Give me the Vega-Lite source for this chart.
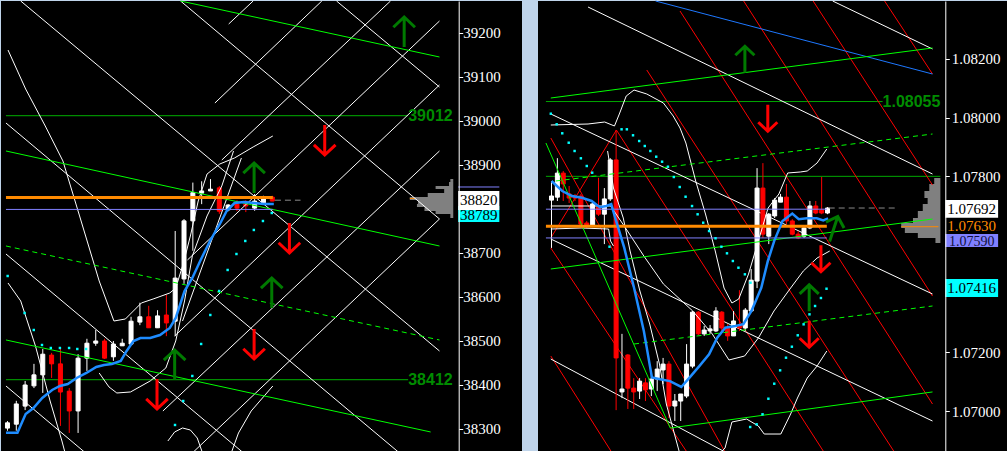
{
"$schema":"https://vega.github.io/schema/vega-lite/v6.json",
"background":"#bfd4ea",
"padding":0,
"spacing":16,
"bounds":"flush",
"config":{"view":{"stroke":null},"axis":{"grid":false}},
"hconcat":[
{
"width":521,"height":451,
"view":{"fill":"#000000","stroke":null},
"encoding":{
 "x":{"field":"x","type":"quantitative","scale":{"domain":[-0.1667,57.7222],"nice":false,"zero":false},"axis":null},
 "y":{"field":"y","type":"quantitative","scale":{"domain":[38247.7,39272.7],"nice":false,"zero":false},
  "axis":{"orient":"right","offset":-63.3,"zindex":1,"values":[38300,38400,38500,38600,38700,38900,39000,39100,39200],"format":"d","domainColor":"#ffffff","tickColor":"#ffffff","labelColor":"#ffffff","labelFont":"Liberation Serif","labelFontSize":15,"tickSize":4,"labelPadding":0,"title":null,"grid":false,"labelOverlap":false}}
},
"layer":[
 {"data":{"values":[{"x":50.17,"y":38868.2,"y2":38861.4},{"x":50.02,"y":38861.4,"y2":38852.3},{"x":48.5,"y":38852.3,"y2":38845.4},{"x":49.47,"y":38845.4,"y2":38836.3},{"x":47.61,"y":38836.3,"y2":38827.2},{"x":45.58,"y":38827.2,"y2":38820.4},{"x":46.5,"y":38820.4,"y2":38811.3},{"x":46.39,"y":38811.3,"y2":38804.5},{"x":47.24,"y":38804.5,"y2":38795.4},{"x":48.5,"y":38795.4,"y2":38788.6},{"x":50.17,"y":38788.6,"y2":38779.5}]},
  "mark":{"type":"rect","color":"#808080"},
  "encoding":{"x2":{"datum":50.5},"y2":{"field":"y2"}}},
 {"data":{"values":[{"x":45.58,"x2":46.13,"y":38824}]},
  "mark":{"type":"rule","color":"#ff8a00","strokeWidth":1},
  "encoding":{"x2":{"field":"x2"}}},
 {"data":{"values":[
   {"x":-0.17,"y":39012,"x2":45.39},{"x":-0.17,"y":38412,"x2":45.39}]},
  "mark":{"type":"rule","color":"#00b000","strokeWidth":1},
  "encoding":{"x2":{"field":"x2"}}},
 {"data":{"values":[
  {"x":0,"y":38302,"h":38318,"l":38296,"c":38314},
  {"x":1,"y":38311,"h":38364,"l":38296,"c":38357},
  {"x":2,"y":38352,"h":38409,"l":38343,"c":38400},
  {"x":3,"y":38398,"h":38448,"l":38393,"c":38423},
  {"x":4,"y":38423,"h":38482,"l":38382,"c":38470},
  {"x":5,"y":38468,"h":38473,"l":38416,"c":38448},
  {"x":6,"y":38448,"h":38486,"l":38307,"c":38384},
  {"x":7,"y":38386,"h":38393,"l":38291,"c":38341},
  {"x":8,"y":38341,"h":38470,"l":38291,"c":38461},
  {"x":9,"y":38461,"h":38505,"l":38432,"c":38495},
  {"x":10,"y":38495,"h":38525,"l":38489,"c":38500},
  {"x":11,"y":38500,"h":38505,"l":38459,"c":38461},
  {"x":12,"y":38464,"h":38500,"l":38455,"c":38493},
  {"x":13,"y":38489,"h":38505,"l":38489,"c":38495},
  {"x":14,"y":38493,"h":38555,"l":38493,"c":38545},
  {"x":15,"y":38543,"h":38587,"l":38536,"c":38555},
  {"x":16,"y":38555,"h":38580,"l":38530,"c":38530},
  {"x":17,"y":38530,"h":38570,"l":38530,"c":38557},
  {"x":18,"y":38559,"h":38605,"l":38511,"c":38541},
  {"x":19,"y":38545,"h":38750,"l":38511,"c":38643},
  {"x":20,"y":38641,"h":38777,"l":38630,"c":38773},
  {"x":21,"y":38773,"h":38860,"l":38705,"c":38837},
  {"x":22,"y":38836,"h":38863,"l":38811,"c":38841},
  {"x":23,"y":38841,"h":38868,"l":38841,"c":38845},
  {"x":24,"y":38848,"h":38852,"l":38789,"c":38795},
  {"x":25,"y":38798,"h":38811,"l":38795,"c":38809},
  {"x":26,"y":38811,"h":38820,"l":38795,"c":38802},
  {"x":27,"y":38811,"h":38820,"l":38793,"c":38807},
  {"x":28,"y":38802,"h":38834,"l":38796,"c":38818},
  {"x":29,"y":38814,"h":38830,"l":38814,"c":38825},
  {"x":30,"y":38827,"h":38830,"l":38818,"c":38818}]},
  "layer":[
   {"mark":{"type":"rule","strokeWidth":1},
    "encoding":{"y":{"field":"l","type":"quantitative"},"y2":{"field":"h"},
     "color":{"condition":{"test":"datum.c >= datum.y","value":"#ffffff"},"value":"#ff0000"}}},
   {"mark":{"type":"bar","orient":"vertical","size":4,"strokeWidth":1},
    "encoding":{"y2":{"field":"c"},
     "fill":{"condition":{"test":"datum.c >= datum.y","value":"#ffffff"},"value":"#ff0000"},
     "stroke":{"condition":{"test":"datum.c >= datum.y","value":"#ffffff"},"value":"#ff0000"}}}
  ]},
 {"data":{"values":[
   {"x":1.5,"y":39272.7,"x2":48.94,"y2":38477.3},
   {"x":19.61,"y":39272.7,"x2":48.94,"y2":38777.3},
   {"x":37.28,"y":39272.7,"x2":48.94,"y2":39077.2},
   {"x":-0.17,"y":38995.4,"x2":44.28,"y2":38247.7},
   {"x":-0.17,"y":38697.7,"x2":26.61,"y2":38247.7},
   {"x":-0.17,"y":38397.7,"x2":8.72,"y2":38247.7},
   {"x":48.94,"y":39081.8,"x2":18.94,"y2":38511.3},
   {"x":48.94,"y":38777.3,"x2":21.06,"y2":38247.7},
   {"x":23.5,"y":39040.9,"x2":35.61,"y2":39272.7},
   {"x":25.06,"y":39220.4,"x2":27.83,"y2":39272.7},
   {"x":43.39,"y":39272.7,"x2":24.28,"y2":38911.3},
   {"x":48.94,"y":39227.2,"x2":20.39,"y2":38684.1},
   {"x":48.94,"y":38931.8,"x2":17.61,"y2":38340.9},
   {"x":19.83,"y":38545.4,"x2":26.5,"y2":38915.9}]},
  "mark":{"type":"rule","color":"#ffffff","strokeWidth":1},
  "encoding":{"x2":{"field":"x2"},"y2":{"field":"y2"}}},
 {"data":{"values":[
   {"s":"u","x":0.06,"y":39161.3},{"s":"u","x":2.06,"y":39072.7},{"s":"u","x":4.28,"y":38988.6},{"s":"u","x":6.28,"y":38909.1},{"s":"u","x":8.17,"y":38784.1},{"s":"u","x":10.39,"y":38636.4},{"s":"u","x":12.06,"y":38545.4},{"s":"u","x":13.36,"y":38550},{"s":"u","x":15.17,"y":38586.4},{"s":"u","x":16.5,"y":38595.4},{"s":"u","x":18.39,"y":38609.1},{"s":"u","x":19.06,"y":38620.4},{"s":"u","x":19.94,"y":38677.3},{"s":"u","x":20.72,"y":38738.6},{"s":"u","x":21.61,"y":38818.2},{"s":"u","x":22.61,"y":38879.5},{"s":"u","x":24.06,"y":38902.3},{"s":"u","x":25.72,"y":38915.9},{"s":"u","x":27.83,"y":38940.9},{"s":"u","x":30.06,"y":38965.9},
   {"s":"a","x":0.06,"y":38631.8},{"s":"a","x":1.5,"y":38590.9},{"s":"a","x":3.17,"y":38488.6},{"s":"a","x":4.83,"y":38363.6},{"s":"a","x":6.17,"y":38272.7},{"s":"a","x":6.5,"y":38247.7},
   {"s":"m","x":10.39,"y":38427.3},{"s":"m","x":11.5,"y":38395.5},{"s":"m","x":12.39,"y":38381.8},{"s":"m","x":13.94,"y":38384.1},{"s":"m","x":16.17,"y":38409.1},{"s":"m","x":17.94,"y":38438.6},{"s":"m","x":19.06,"y":38500},{"s":"m","x":20.06,"y":38590.9},{"s":"m","x":20.94,"y":38693.2},{"s":"m","x":22.61,"y":38784.1},{"s":"m","x":24.28,"y":38852.3},{"s":"m","x":25.61,"y":38931.8},
   {"s":"c","x":18.17,"y":38272.7},{"s":"c","x":18.94,"y":38293.2},{"s":"c","x":19.83,"y":38302.3},{"s":"c","x":20.72,"y":38297.7},{"s":"c","x":21.5,"y":38279.5},{"s":"c","x":22.06,"y":38247.7},
   {"s":"d","x":25.39,"y":38247.7},{"s":"d","x":26.17,"y":38290.9},{"s":"d","x":27.61,"y":38340.9},{"s":"d","x":30.06,"y":38397.7}]},
  "mark":{"type":"line","color":"#ffffff","strokeWidth":1},
  "encoding":{"detail":{"field":"s"}}},
 {"data":{"values":[
   {"x":19.61,"y":39272.7,"x2":48.94,"y2":39145.4},
   {"x":-0.17,"y":38931.8,"x2":48.94,"y2":38715.9},
   {"x":-0.17,"y":38502.3,"x2":47.94,"y2":38293.2}]},
  "mark":{"type":"rule","color":"#00ff00","strokeWidth":1},
  "encoding":{"x2":{"field":"x2"},"y2":{"field":"y2"}}},
 {"data":{"values":[{"x":-0.17,"y":38715.9,"x2":48.94,"y2":38502.3}]},
  "mark":{"type":"rule","color":"#00ff00","strokeWidth":1,"strokeDash":[5,4]},
  "encoding":{"x2":{"field":"x2"},"y2":{"field":"y2"}}},
 {"data":{"values":[{"x":-0.17,"y":38826,"x2":30.06}]},
  "mark":{"type":"rule","color":"#ff8a00","strokeWidth":3},
  "encoding":{"x2":{"field":"x2"}}},
 {"data":{"values":[{"x":-0.17,"y":38799,"x2":30.06},{"x":51.06,"y":38850,"x2":55.72}]},
  "mark":{"type":"rule","color":"#8080ff","strokeWidth":1},
  "encoding":{"x2":{"field":"x2"}}},
 {"data":{"values":[{"x":30.3,"y":38820,"x2":33.2}]},
  "mark":{"type":"rule","color":"#8a8a8a","strokeWidth":1,"strokeDash":[6,4]},
  "encoding":{"x2":{"field":"x2"}}},
 {"data":{"values":[
   {"x":-0.17,"y":38291.6},{"x":1.13,"y":38291.6},{"x":2.06,"y":38334},{"x":2.94,"y":38347.7},{"x":3.94,"y":38370.5},{"x":5.06,"y":38388.6},{"x":5.94,"y":38397.7},{"x":6.83,"y":38402.3},{"x":7.83,"y":38415.9},{"x":8.94,"y":38427.3},{"x":10.06,"y":38440.9},{"x":10.94,"y":38445.4},{"x":11.83,"y":38447.7},{"x":12.83,"y":38454.5},{"x":13.5,"y":38477.3},{"x":14.28,"y":38500},{"x":15.06,"y":38506.8},{"x":16.17,"y":38506.8},{"x":17.28,"y":38513.6},{"x":18.39,"y":38529.5},{"x":19.06,"y":38552.3},{"x":20.06,"y":38613.6},{"x":20.94,"y":38643.2},{"x":21.83,"y":38681.8},{"x":22.94,"y":38727.3},{"x":24.06,"y":38765.9},{"x":24.83,"y":38795.4},{"x":25.72,"y":38813.6},{"x":26.83,"y":38815.9},{"x":27.94,"y":38813.6},{"x":29.06,"y":38811.3},{"x":30.17,"y":38811.3}]},
  "mark":{"type":"line","color":"#1e8cff","strokeWidth":2.5},
  "encoding":{}},
 {"data":{"values":[
   {"x":0.02,"y":38647.7},{"x":1.94,"y":38563.6},{"x":2.98,"y":38525},{"x":3.91,"y":38490.9},{"x":4.91,"y":38484.1},{"x":5.94,"y":38484.1},{"x":6.98,"y":38484.1},{"x":7.91,"y":38481.8},{"x":8.91,"y":38481.8},
   {"x":18.98,"y":38309.1},{"x":19.91,"y":38363.6},{"x":20.94,"y":38420.5},{"x":21.94,"y":38493.2},{"x":22.98,"y":38559.1},{"x":23.98,"y":38613.6},{"x":24.94,"y":38661.4},{"x":25.94,"y":38697.7},{"x":26.94,"y":38727.3},{"x":27.91,"y":38752.3},{"x":28.94,"y":38772.7},{"x":29.94,"y":38790.9}]},
  "mark":{"type":"point","shape":"square","filled":true,"size":6,"color":"#00ffff","opacity":1},
  "encoding":{}},
 {"data":{"values":[
   {"x":44.94,"y":39202.2,"d":"up"},{"x":27.94,"y":38870.4,"d":"up"},{"x":29.94,"y":38609.1,"d":"up"},{"x":18.94,"y":38445.4,"d":"up"},
   {"x":35.94,"y":38956.8,"d":"down"},{"x":31.94,"y":38734.1,"d":"down"},{"x":27.94,"y":38493.2,"d":"down"},{"x":16.94,"y":38379.5,"d":"down"}]},
  "mark":{"type":"point","filled":false,"strokeWidth":3,"size":900,"opacity":1},
  "encoding":{
   "shape":{"field":"d","type":"nominal","legend":null,"scale":{"domain":["up","down"],"range":["M0,-1L0,1M-0.72,-0.32L0,-1L0.72,-0.32","M0,-1L0,1M-0.72,0.32L0,1L0.72,0.32"]}},
   "color":{"field":"d","type":"nominal","legend":null,"scale":{"domain":["up","down"],"range":["#007a00","#ff0000"]}}}},
 {"data":{"values":[{"x":50.44,"y":39012,"t":"39012"},{"x":50.44,"y":38412,"t":"38412"}]},
  "mark":{"type":"text","align":"right","baseline":"middle","font":"Liberation Sans","fontWeight":"bold","fontSize":16,"color":"#008c00"},
  "encoding":{"text":{"field":"t"}}},
 {"data":{"values":[{"x":51.06,"x2":55.72,"y":38806.8,"y2":38770.5}]},
  "mark":{"type":"rect","color":"#00ffff"},
  "encoding":{"x2":{"field":"x2"},"y2":{"field":"y2"}}},
 {"data":{"values":[{"x":53.39,"y":38786.4,"t":"38789"}]},
  "mark":{"type":"text","align":"center","baseline":"middle","font":"Liberation Serif","fontSize":15,"color":"#000000"},
  "encoding":{"text":{"field":"t"}}},
 {"data":{"values":[{"x":51.06,"x2":55.72,"y":38840.9,"y2":38797.7}]},
  "mark":{"type":"rect","color":"#ffffff"},
  "encoding":{"x2":{"field":"x2"},"y2":{"field":"y2"}}},
 {"data":{"values":[{"x":53.39,"y":38819.3,"t":"38820"}]},
  "mark":{"type":"text","align":"center","baseline":"middle","font":"Liberation Serif","fontSize":15,"color":"#000000"},
  "encoding":{"text":{"field":"t"}}}
]
},
{
"width":470,"height":451,
"view":{"fill":"#000000","stroke":null},
"encoding":{
 "x":{"field":"x","type":"quantitative","scale":{"domain":[-1.45,76.883],"nice":false,"zero":false},"axis":null},
 "y":{"field":"y","type":"quantitative","scale":{"domain":[1.068603,1.083977],"nice":false,"zero":false},
  "axis":{"orient":"right","offset":-62.7,"zindex":1,"values":[1.07,1.072,1.078,1.08,1.082,1.084],"format":".5f","domainColor":"#ffffff","tickColor":"#ffffff","labelColor":"#ffffff","labelFont":"Liberation Serif","labelFontSize":15,"tickSize":4,"labelPadding":2,"title":null,"grid":false,"labelOverlap":false}}
},
"layer":[
 {"data":{"values":[{"x":65.17,"y":1.077943,"y2":1.077739},{"x":64.33,"y":1.077739,"y2":1.0775},{"x":63.5,"y":1.0775,"y2":1.077261},{"x":64.05,"y":1.077261,"y2":1.077057},{"x":63.22,"y":1.077057,"y2":1.076818},{"x":62.38,"y":1.076818,"y2":1.07658},{"x":61.55,"y":1.07658,"y2":1.076409},{"x":59.55,"y":1.076409,"y2":1.076239},{"x":60.17,"y":1.076239,"y2":1.076068},{"x":62.38,"y":1.076068,"y2":1.075898},{"x":65.38,"y":1.075898,"y2":1.075727}]},
  "mark":{"type":"rect","color":"#808080"},
  "encoding":{"x2":{"datum":66.22},"y2":{"field":"y2"}}},
 {"data":{"values":[{"x":59.55,"x2":65.88,"y":1.076283}]},
  "mark":{"type":"rule","color":"#ff8a00","strokeWidth":1},
  "encoding":{"x2":{"field":"x2"}}},
 {"data":{"values":[{"x":-0.95,"y":1.08055,"x2":56.38},{"x":-0.95,"y":1.078,"x2":66.22}]},
  "mark":{"type":"rule","color":"#00a800","strokeWidth":1},
  "encoding":{"x2":{"field":"x2"}}},
 {"data":{"values":[
   {"x":21.88,"y":1.083636,"x2":64.88,"y2":1.070239},
   {"x":32.72,"y":1.083977,"x2":64.88,"y2":1.07392},
   {"x":44.55,"y":1.083977,"x2":64.88,"y2":1.077704},
   {"x":56.72,"y":1.083977,"x2":64.88,"y2":1.081488},
   {"x":16.22,"y":1.081625,"x2":58.38,"y2":1.068603},
   {"x":-0.12,"y":1.079307,"x2":29.55,"y2":1.068603},
   {"x":-0.12,"y":1.075557,"x2":23.05,"y2":1.068603},
   {"x":-0.12,"y":1.071875,"x2":10.22,"y2":1.068603},
   {"x":11.05,"y":1.079579,"x2":-0.12,"y2":1.075898},
   {"x":11.05,"y":1.079579,"x2":46.38,"y2":1.068603}]},
  "mark":{"type":"rule","color":"#ff0000","strokeWidth":1},
  "encoding":{"x2":{"field":"x2"},"y2":{"field":"y2"}}},
 {"data":{"values":[
   {"x":6.22,"y":1.083772,"x2":64.88,"y2":1.078079},
   {"x":47.88,"y":1.083977,"x2":64.88,"y2":1.082341},
   {"x":-0.12,"y":1.080125,"x2":64.88,"y2":1.073989},
   {"x":-0.12,"y":1.071773,"x2":29.55,"y2":1.068603},
   {"x":-0.12,"y":1.075864,"x2":64.88,"y2":1.069659}]},
  "mark":{"type":"rule","color":"#ffffff","strokeWidth":1},
  "encoding":{"x2":{"field":"x2"},"y2":{"field":"y2"}}},
 {"data":{"values":[{"x":17.72,"y":1.083977,"x2":64.88,"y2":1.081488}]},
  "mark":{"type":"rule","color":"#1e78ff","strokeWidth":1},
  "encoding":{"x2":{"field":"x2"},"y2":{"field":"y2"}}},
 {"data":{"values":[
  {"x":0,"y":1.07719,"h":1.07784,"l":1.07556,"c":1.07733},
  {"x":1,"y":1.07729,"h":1.07862,"l":1.07716,"c":1.07811},
  {"x":2,"y":1.07811,"h":1.07818,"l":1.07716,"c":1.07774},
  {"x":3,"y":1.0774,"h":1.07767,"l":1.07709,"c":1.07726},
  {"x":4,"y":1.07733,"h":1.0774,"l":1.07716,"c":1.07726},
  {"x":5,"y":1.07733,"h":1.0774,"l":1.07631,"c":1.07637},
  {"x":6,"y":1.07641,"h":1.07648,"l":1.07624,"c":1.07634},
  {"x":7,"y":1.07631,"h":1.07709,"l":1.07627,"c":1.07706},
  {"x":8,"y":1.07695,"h":1.07795,"l":1.07665,"c":1.07671},
  {"x":9,"y":1.07671,"h":1.0776,"l":1.07569,"c":1.07723},
  {"x":10,"y":1.07723,"h":1.07862,"l":1.07716,"c":1.07856},
  {"x":11,"y":1.07856,"h":1.07958,"l":1.07003,"c":1.07181},
  {"x":12,"y":1.07065,"h":1.07263,"l":1.07044,"c":1.07075},
  {"x":13,"y":1.07191,"h":1.07194,"l":1.07007,"c":1.07078},
  {"x":14,"y":1.07078,"h":1.07112,"l":1.07007,"c":1.07065},
  {"x":15,"y":1.07068,"h":1.07112,"l":1.07041,"c":1.07102},
  {"x":16,"y":1.07096,"h":1.07112,"l":1.07034,"c":1.07072},
  {"x":17,"y":1.07075,"h":1.07129,"l":1.07051,"c":1.07109},
  {"x":18,"y":1.07109,"h":1.0717,"l":1.07068,"c":1.07143},
  {"x":19,"y":1.0714,"h":1.07181,"l":1.07092,"c":1.0716},
  {"x":20,"y":1.0716,"h":1.0717,"l":1.06976,"c":1.07017},
  {"x":21,"y":1.07017,"h":1.07058,"l":1.06966,"c":1.07034},
  {"x":22,"y":1.07034,"h":1.07058,"l":1.06966,"c":1.07058},
  {"x":23,"y":1.07051,"h":1.07228,"l":1.07044,"c":1.0716},
  {"x":24,"y":1.07153,"h":1.07341,"l":1.07146,"c":1.07337},
  {"x":25,"y":1.07337,"h":1.07341,"l":1.07259,"c":1.07263},
  {"x":26,"y":1.07263,"h":1.0729,"l":1.07256,"c":1.07276},
  {"x":27,"y":1.07273,"h":1.07293,"l":1.07263,"c":1.0728},
  {"x":28,"y":1.07273,"h":1.07354,"l":1.07269,"c":1.07341},
  {"x":29,"y":1.07337,"h":1.07341,"l":1.07273,"c":1.07283},
  {"x":30,"y":1.07283,"h":1.07296,"l":1.07239,"c":1.07256},
  {"x":31,"y":1.07256,"h":1.07341,"l":1.07256,"c":1.07307},
  {"x":32,"y":1.0729,"h":1.07412,"l":1.07273,"c":1.07283},
  {"x":33,"y":1.07283,"h":1.07351,"l":1.07273,"c":1.07344},
  {"x":34,"y":1.07341,"h":1.07484,"l":1.07341,"c":1.07446},
  {"x":35,"y":1.07443,"h":1.07828,"l":1.07419,"c":1.0776},
  {"x":36,"y":1.0776,"h":1.07845,"l":1.0759,"c":1.07603},
  {"x":37,"y":1.07596,"h":1.07675,"l":1.07569,"c":1.07671},
  {"x":38,"y":1.07665,"h":1.07726,"l":1.07658,"c":1.07719},
  {"x":39,"y":1.07712,"h":1.0774,"l":1.07712,"c":1.07729},
  {"x":40,"y":1.07729,"h":1.07774,"l":1.07637,"c":1.07648},
  {"x":41,"y":1.07648,"h":1.07654,"l":1.07599,"c":1.07603},
  {"x":42,"y":1.07603,"h":1.07613,"l":1.07586,"c":1.0759},
  {"x":43,"y":1.07596,"h":1.07627,"l":1.0759,"c":1.07624},
  {"x":44,"y":1.07624,"h":1.07716,"l":1.0762,"c":1.07699},
  {"x":45,"y":1.07699,"h":1.07716,"l":1.07671,"c":1.07675},
  {"x":46,"y":1.07685,"h":1.07798,"l":1.07671,"c":1.07675},
  {"x":47,"y":1.07675,"h":1.07695,"l":1.07671,"c":1.07692}]},
  "layer":[
   {"mark":{"type":"rule","strokeWidth":1},
    "encoding":{"y":{"field":"l","type":"quantitative"},"y2":{"field":"h"},
     "color":{"condition":{"test":"datum.c >= datum.y","value":"#ffffff"},"value":"#ff0000"}}},
   {"mark":{"type":"bar","orient":"vertical","size":4,"strokeWidth":1},
    "encoding":{"y2":{"field":"c"},
     "fill":{"condition":{"test":"datum.c >= datum.y","value":"#ffffff"},"value":"#ff0000"},
     "stroke":{"condition":{"test":"datum.c >= datum.y","value":"#ffffff"},"value":"#ff0000"}}}
  ]},
 {"data":{"values":[
   {"s":"u","x":-0.12,"y":1.07975},{"s":"u","x":6.22,"y":1.079784},{"s":"u","x":9.05,"y":1.079852},{"s":"u","x":10.72,"y":1.079716},{"s":"u","x":11.55,"y":1.080125},{"s":"u","x":12.72,"y":1.080738},{"s":"u","x":14.05,"y":1.080943},{"s":"u","x":16.22,"y":1.080807},{"s":"u","x":19.05,"y":1.0805},{"s":"u","x":20.72,"y":1.080057},{"s":"u","x":21.88,"y":1.079648},{"s":"u","x":22.88,"y":1.079136},{"s":"u","x":24.55,"y":1.077841},{"s":"u","x":26.22,"y":1.076716},{"s":"u","x":27.88,"y":1.075455},{"s":"u","x":29.38,"y":1.074193},{"s":"u","x":30.72,"y":1.073682},{"s":"u","x":31.88,"y":1.073818},{"s":"u","x":33.55,"y":1.07467},{"s":"u","x":35.22,"y":1.075795},{"s":"u","x":36.88,"y":1.07692},{"s":"u","x":38.72,"y":1.077398},{"s":"u","x":40.22,"y":1.078114},{"s":"u","x":42.38,"y":1.078148},{"s":"u","x":43.55,"y":1.078182},{"s":"u","x":45.22,"y":1.078455},{"s":"u","x":46.88,"y":1.078932},
   {"s":"m","x":-0.12,"y":1.076989},{"s":"m","x":10.05,"y":1.076989},{"s":"m","x":12.38,"y":1.076307},{"s":"m","x":15.72,"y":1.075284},{"s":"m","x":19.05,"y":1.07433},{"s":"m","x":24.05,"y":1.073409},{"s":"m","x":27.38,"y":1.072625},{"s":"m","x":30.22,"y":1.071739},{"s":"m","x":32.88,"y":1.071875},{"s":"m","x":35.22,"y":1.072489},{"s":"m","x":37.88,"y":1.073409},{"s":"m","x":40.72,"y":1.074193},{"s":"m","x":42.88,"y":1.074773},{"s":"m","x":45.22,"y":1.075216},{"s":"m","x":47.38,"y":1.075455},
   {"s":"p","x":-0.12,"y":1.076204},{"s":"p","x":5.05,"y":1.076239},{"s":"p","x":9.72,"y":1.076204},{"s":"p","x":10.05,"y":1.075795},{"s":"p","x":10.55,"y":1.075625},
   {"s":"q","x":9.55,"y":1.078864},{"s":"q","x":10.55,"y":1.077602},{"s":"q","x":12.22,"y":1.07658},{"s":"q","x":13.38,"y":1.075455},{"s":"q","x":15.05,"y":1.074091},{"s":"q","x":16.72,"y":1.072966},{"s":"q","x":18.38,"y":1.071602},{"s":"q","x":19.55,"y":1.070239},{"s":"q","x":21.72,"y":1.068637},
   {"s":"lb","x":28.88,"y":1.068603},{"s":"lb","x":29.55,"y":1.068739},{"s":"lb","x":30.72,"y":1.069625},{"s":"lb","x":33.22,"y":1.069727},{"s":"lb","x":35.22,"y":1.069489},{"s":"lb","x":36.22,"y":1.069216},{"s":"lb","x":39.05,"y":1.069216},{"s":"lb","x":40.72,"y":1.069898},{"s":"lb","x":41.88,"y":1.070443},{"s":"lb","x":43.55,"y":1.071125},{"s":"lb","x":45.22,"y":1.071534},{"s":"lb","x":46.88,"y":1.072045}]},
  "mark":{"type":"line","color":"#ffffff","strokeWidth":1},
  "encoding":{"detail":{"field":"s"}}},
 {"data":{"values":[
   {"x":-0.12,"y":1.08067,"x2":64.88,"y2":1.082375},
   {"x":-0.12,"y":1.074841,"x2":64.88,"y2":1.076545},
   {"x":20.22,"y":1.069421,"x2":64.88,"y2":1.07065},
   {"x":-0.95,"y":1.079136,"x2":20.22,"y2":1.069421}]},
  "mark":{"type":"rule","color":"#00ff00","strokeWidth":1},
  "encoding":{"x2":{"field":"x2"},"y2":{"field":"y2"}}},
 {"data":{"values":[
   {"x":0.72,"y":1.077841,"x2":64.88,"y2":1.079443},
   {"x":14.05,"y":1.072284,"x2":64.88,"y2":1.07358}]},
  "mark":{"type":"rule","color":"#00ff00","strokeWidth":1,"strokeDash":[5,4]},
  "encoding":{"x2":{"field":"x2"},"y2":{"field":"y2"}}},
 {"data":{"values":[{"x":-0.95,"y":1.0763,"x2":46.88}]},
  "mark":{"type":"rule","color":"#ff8a00","strokeWidth":3},
  "encoding":{"x2":{"field":"x2"}}},
 {"data":{"values":[{"x":-0.95,"y":1.07688,"x2":46.88},{"x":-0.95,"y":1.0759,"x2":46.88}]},
  "mark":{"type":"rule","color":"#8080ff","strokeWidth":1},
  "encoding":{"x2":{"field":"x2"}}},
 {"data":{"values":[{"x":47.2,"y":1.07692,"x2":59}]},
  "mark":{"type":"rule","color":"#8a8a8a","strokeWidth":1,"strokeDash":[6,4]},
  "encoding":{"x2":{"field":"x2"}}},
 {"data":{"values":[
   {"x":0,"y":1.07784},{"x":1.83,"y":1.0775},{"x":3.5,"y":1.07733},{"x":5.17,"y":1.07727},{"x":6.83,"y":1.07716},{"x":8.22,"y":1.07695},{"x":9.33,"y":1.07699},{"x":10.17,"y":1.07705},{"x":11,"y":1.07648},{"x":12.38,"y":1.07557},{"x":14.05,"y":1.0742},{"x":15.72,"y":1.07273},{"x":17.1,"y":1.07114},{"x":18.5,"y":1.07108},{"x":20.17,"y":1.07102},{"x":22.1,"y":1.07082},{"x":23.5,"y":1.07114},{"x":25.17,"y":1.07153},{"x":26.83,"y":1.07193},{"x":28.22,"y":1.0725},{"x":29.6,"y":1.07284},{"x":31.27,"y":1.0729},{"x":32.67,"y":1.07296},{"x":34.05,"y":1.07341},{"x":35.72,"y":1.0742},{"x":36.83,"y":1.07511},{"x":37.93,"y":1.0758},{"x":39.33,"y":1.07648},{"x":41,"y":1.07673},{"x":42.1,"y":1.07654},{"x":43.5,"y":1.07657},{"x":45.17,"y":1.07657},{"x":46.27,"y":1.0765},{"x":47.1,"y":1.07657}]},
  "mark":{"type":"line","color":"#1e8cff","strokeWidth":2.5},
  "encoding":{}},
 {"data":{"values":[
   {"x":-0.12,"y":1.080135},{"x":0.88,"y":1.079774},{"x":1.83,"y":1.079467},{"x":2.93,"y":1.079146},{"x":3.93,"y":1.078864},{"x":5,"y":1.078615},{"x":6,"y":1.078352},{"x":6.93,"y":1.078124},{"x":9.88,"y":1.075601},
   {"x":11.93,"y":1.079603},{"x":12.83,"y":1.079603},{"x":13.88,"y":1.079399},{"x":14.93,"y":1.079204},{"x":15.88,"y":1.079034},{"x":16.83,"y":1.078864},{"x":17.83,"y":1.078669},{"x":18.83,"y":1.078499},{"x":19.83,"y":1.078328},{"x":20.83,"y":1.077977},{"x":21.83,"y":1.077636},{"x":22.83,"y":1.077305},{"x":23.93,"y":1.076988},{"x":24.88,"y":1.076706},{"x":25.83,"y":1.076419},{"x":26.83,"y":1.076136},{"x":27.93,"y":1.075888},{"x":28.93,"y":1.075601},{"x":29.88,"y":1.075376},{"x":30.88,"y":1.075114},{"x":31.83,"y":1.074885},{"x":32.93,"y":1.07466},{"x":33.88,"y":1.074374},
   {"x":33.83,"y":1.069455},{"x":34.93,"y":1.069547},{"x":35.93,"y":1.069888},{"x":36.93,"y":1.070419},{"x":37.93,"y":1.070931},{"x":38.93,"y":1.071387},{"x":39.93,"y":1.071817},{"x":40.93,"y":1.072192},{"x":41.93,"y":1.072581},{"x":42.93,"y":1.072955},{"x":43.93,"y":1.073296},{"x":44.88,"y":1.07358},{"x":45.88,"y":1.073852},{"x":46.83,"y":1.074169}]},
  "mark":{"type":"point","shape":"square","filled":true,"size":6,"color":"#00ffff","opacity":1},
  "encoding":{}},
 {"data":{"values":[
   {"x":32.93,"y":1.081983,"d":"up"},{"x":43.88,"y":1.073852,"d":"up"},
   {"x":36.83,"y":1.079988,"d":"down"},{"x":45.88,"y":1.075199,"d":"down"},{"x":43.88,"y":1.072625,"d":"down"}]},
  "mark":{"type":"point","filled":false,"strokeWidth":3,"size":700,"opacity":1},
  "encoding":{
   "shape":{"field":"d","type":"nominal","legend":null,"scale":{"domain":["up","down"],"range":["M0,-1L0,1M-0.72,-0.32L0,-1L0.72,-0.32","M0,-1L0,1M-0.72,0.32L0,1L0.72,0.32"]}},
   "color":{"field":"d","type":"nominal","legend":null,"scale":{"domain":["up","down"],"range":["#007a00","#ff0000"]}}}},
 {"data":{"values":[{"x":48.05,"y":1.076205}]},
  "mark":{"type":"point","filled":false,"strokeWidth":3,"size":700,"opacity":1,"angle":18,"color":"#007a00","shape":"M0,-1L0,1M-0.72,-0.32L0,-1L0.72,-0.32"},
  "encoding":{}},
 {"data":{"values":[{"x":66.22,"y":1.08055,"t":"1.08055"}]},
  "mark":{"type":"text","align":"right","baseline":"middle","font":"Liberation Sans","fontWeight":"bold","fontSize":16,"color":"#008c00"},
  "encoding":{"text":{"field":"t"}}},
 {"data":{"values":[{"x":67.05,"x2":76.05,"y":1.076034,"y2":1.075591}]},
  "mark":{"type":"rect","color":"#8080ff"},
  "encoding":{"x2":{"field":"x2"},"y2":{"field":"y2"}}},
 {"data":{"values":[{"x":71.55,"y":1.075762,"t":"1.07590"}]},
  "mark":{"type":"text","align":"center","baseline":"middle","font":"Liberation Serif","fontSize":14,"color":"#101040"},
  "encoding":{"text":{"field":"t"}}},
 {"data":{"values":[{"x":67.05,"x2":76.05,"y":1.07658,"y2":1.076051}]},
  "mark":{"type":"rect","color":"#000000"},
  "encoding":{"x2":{"field":"x2"},"y2":{"field":"y2"}}},
 {"data":{"values":[{"x":71.55,"y":1.076307,"t":"1.07630"}]},
  "mark":{"type":"text","align":"center","baseline":"middle","font":"Liberation Serif","fontSize":15,"color":"#ff8a00"},
  "encoding":{"text":{"field":"t"}}},
 {"data":{"values":[{"x":67.05,"x2":76.05,"y":1.077193,"y2":1.07659}]},
  "mark":{"type":"rect","color":"#ffffff"},
  "encoding":{"x2":{"field":"x2"},"y2":{"field":"y2"}}},
 {"data":{"values":[{"x":71.55,"y":1.076893,"t":"1.07692"}]},
  "mark":{"type":"text","align":"center","baseline":"middle","font":"Liberation Serif","fontSize":15,"color":"#000000"},
  "encoding":{"text":{"field":"t"}}},
 {"data":{"values":[{"x":67.05,"x2":76.05,"y":1.0745,"y2":1.073887}]},
  "mark":{"type":"rect","color":"#00ffff"},
  "encoding":{"x2":{"field":"x2"},"y2":{"field":"y2"}}},
 {"data":{"values":[{"x":71.55,"y":1.074193,"t":"1.07416"}]},
  "mark":{"type":"text","align":"center","baseline":"middle","font":"Liberation Serif","fontSize":15,"color":"#000000"},
  "encoding":{"text":{"field":"t"}}}
]
}
]
}
